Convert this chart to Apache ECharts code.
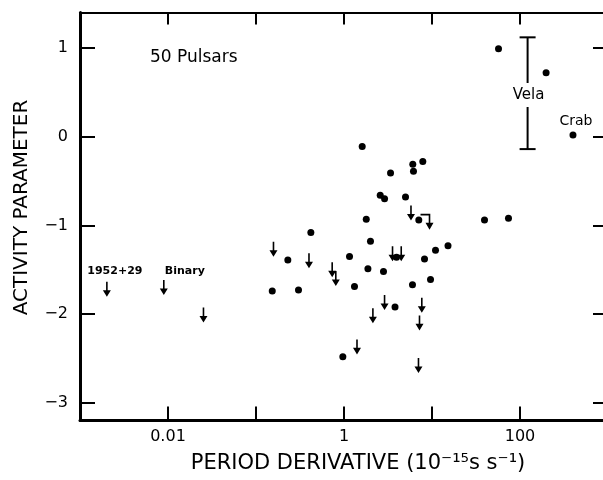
<!DOCTYPE html>
<html>
<head>
<meta charset="utf-8">
<script src="https://cdn.jsdelivr.net/npm/echarts@6/dist/echarts.min.js"></script>
<style>
  html, body { margin: 0; background: #fff; }
  #chart { width: 603px; height: 480px; }
</style>
</head>
<body>
<div id="chart"></div>
<script>
// pulsars with a measured activity parameter (dots)
const detectPdot = [57, 198, 400, 1.61, 3.38, 6.05, 6.16, 7.86, 2.58, 2.89, 5.0, 7.08, 1.79, 39.5, 74,
  0.42, 2.0, 0.23, 1.155, 3.95, 8.22, 10.96, 15.2, 1.87, 2.81, 0.153, 0.304, 1.316, 6.0, 9.62, 3.8, 0.97]
const detectActivity = [0.99, 0.72, 0.02, -0.11, -0.41, -0.31, -0.39, -0.28, -0.66, -0.70, -0.68, -0.94, -0.93, -0.94, -0.92,
  -1.08, -1.18, -1.39, -1.35, -1.36, -1.38, -1.28, -1.23, -1.49, -1.52, -1.74, -1.73, -1.69, -1.67, -1.61, -1.92, -2.48]

// upper limits (arrows)
const limitPdot = [0.00202, 0.00896, 0.0253, 0.158, 0.40, 0.734, 0.807, 3.56, 4.47, 5.77,
  2.89, 2.13, 7.66, 7.21, 1.405, 7.02]
const limitActivity = [-1.72, -1.70, -2.01, -1.27, -1.40, -1.50, -1.60, -1.32, -1.32, -0.86,
  -1.87, -2.02, -1.90, -2.10, -2.37, -2.58]

// the bracketed limit next to the dot at ~7
const hookPdot = [9.37]
const hookActivity = [-0.96]

// Vela: range bar
const velaPdot = 122
const velaRange = [-0.14, 1.12]
const velaLabelAt = 0.47

const xTickLabels = {'-2': '0.01', '0': '1', '2': '100'}

const font = 'DejaVu Sans'
const arrowPath = 'path://M3.2,0 L4.8,0 L4.8,9 L8,9 L4,16 L0,9 L3.2,9 Z'
const hookPath = 'path://M0,0 L9.8,0 L9.8,9 L13,9 L9,16 L5,9 L8.2,9 L8.2,1.6 L0,1.6 Z'

const dotData = detectPdot.map((x, i) => [x, detectActivity[i]])
dotData[2] = {
  value: dotData[2],
  label: {show: true, formatter: 'Crab', position: 'top', distance: 3, offset: [3, 0], fontSize: 14, color: '#000'}
}

const limitData = limitPdot.map((x, i) => [x, limitActivity[i]])
limitData[0] = {
  value: limitData[0],
  label: {show: true, formatter: '1952+29', position: 'top', distance: 5, offset: [8, 0], fontSize: 11, fontWeight: 'bold', color: '#000'}
}
limitData[1] = {
  value: limitData[1],
  label: {show: true, formatter: 'Binary', position: 'top', distance: 5, offset: [21, 2], fontSize: 11, fontWeight: 'bold', color: '#000'}
}

const chart = echarts.init(document.getElementById('chart'))

const option = {
  animation: false,
  backgroundColor: '#fff',
  textStyle: {fontFamily: font, color: '#000'},
  grid: {left: 80, top: 12.5, width: 528, height: 408, outerBoundsMode: 'none'},
  xAxis: [
    {
      type: 'log',
      logBase: 10,
      min: 0.001,
      max: 1000,
      splitNumber: 6,
      axisLine: {onZero: false, lineStyle: {color: '#000', width: 3}},
      axisTick: {inside: true, length: 14, lineStyle: {color: '#000', width: 2}},
      splitLine: {show: false},
      axisLabel: {
        margin: 8,
        fontSize: 16,
        color: '#000',
        fontFamily: font,
        formatter: function (v) {
          return xTickLabels[String(Math.round(Math.log10(v)))] || ''
        }
      },
      name: 'PERIOD DERIVATIVE (10⁻¹⁵s s⁻¹)',
      nameLocation: 'middle',
      nameGap: 33,
      nameTextStyle: {fontSize: 21, color: '#000', fontFamily: font, padding: [0, 0, 0, 28]}
    },
    {
      type: 'log',
      logBase: 10,
      min: 0.001,
      max: 1000,
      splitNumber: 6,
      position: 'top',
      axisLine: {onZero: false, lineStyle: {color: '#000', width: 2}},
      axisTick: {inside: true, length: 12, lineStyle: {color: '#000', width: 2}},
      axisLabel: {show: false},
      splitLine: {show: false}
    }
  ],
  yAxis: [
    {
      type: 'value',
      min: -3.2,
      max: 1.4,
      axisLine: {show: true, onZero: false, lineStyle: {color: '#000', width: 3}},
      axisTick: {show: true, inside: true, length: 15, lineStyle: {color: '#000', width: 2}},
      splitLine: {show: false},
      axisLabel: {
        margin: 12,
        fontSize: 16,
        color: '#000',
        fontFamily: font,
        formatter: function (v) {
          return Number.isInteger(v) ? String(v).replace('-', '−') : ''
        }
      },
      name: 'ACTIVITY PARAMETER',
      nameLocation: 'middle',
      nameGap: 48,
      nameTextStyle: {fontSize: 20, color: '#000', fontFamily: font, padding: [0, 0, 0, 18]}
    },
    {
      type: 'value',
      min: -3.2,
      max: 1.4,
      position: 'right',
      axisLine: {show: true, onZero: false, lineStyle: {color: '#000', width: 2}},
      axisTick: {show: true, inside: true, length: 15, lineStyle: {color: '#000', width: 2}},
      axisLabel: {show: false},
      splitLine: {show: false}
    }
  ],
  graphic: [
    {
      type: 'text',
      left: 150,
      top: 49,
      style: {text: '50 Pulsars', font: '17px "DejaVu Sans"', fill: '#000'}
    }
  ],
  series: [
    {
      type: 'scatter',
      symbol: 'circle',
      symbolSize: 7,
      itemStyle: {color: '#000', opacity: 1},
      data: dotData
    },
    {
      type: 'scatter',
      symbol: arrowPath,
      symbolSize: [8, 15],
      itemStyle: {color: '#000', opacity: 1},
      data: limitData
    },
    {
      type: 'scatter',
      symbol: hookPath,
      symbolSize: [13, 16],
      symbolOffset: [-2.5, 0],
      itemStyle: {color: '#000', opacity: 1},
      data: hookPdot.map((x, i) => [x, hookActivity[i]])
    },
    {
      type: 'custom',
      data: [[velaPdot, velaRange[0], velaRange[1], velaLabelAt]],
      renderItem: function (params, api) {
        const top = api.coord([api.value(0), api.value(2)])
        const bot = api.coord([api.value(0), api.value(1)])
        const mid = api.coord([api.value(0), api.value(3)])
        const style = {stroke: '#000', lineWidth: 2}
        return {
          type: 'group',
          children: [
            {type: 'line', shape: {x1: top[0], y1: top[1], x2: top[0], y2: mid[1] - 12}, style: style},
            {type: 'line', shape: {x1: bot[0], y1: mid[1] + 12, x2: bot[0], y2: bot[1]}, style: style},
            {type: 'line', shape: {x1: top[0] - 8, y1: top[1], x2: top[0] + 8, y2: top[1]}, style: style},
            {type: 'line', shape: {x1: bot[0] - 8, y1: bot[1], x2: bot[0] + 8, y2: bot[1]}, style: style},
            {
              type: 'text',
              x: mid[0] + 1,
              y: mid[1],
              style: {text: 'Vela', align: 'center', verticalAlign: 'middle', font: '15px "DejaVu Sans"', fill: '#000'}
            }
          ]
        }
      }
    }
  ]
}

chart.setOption(option)
</script>
</body>
</html>
